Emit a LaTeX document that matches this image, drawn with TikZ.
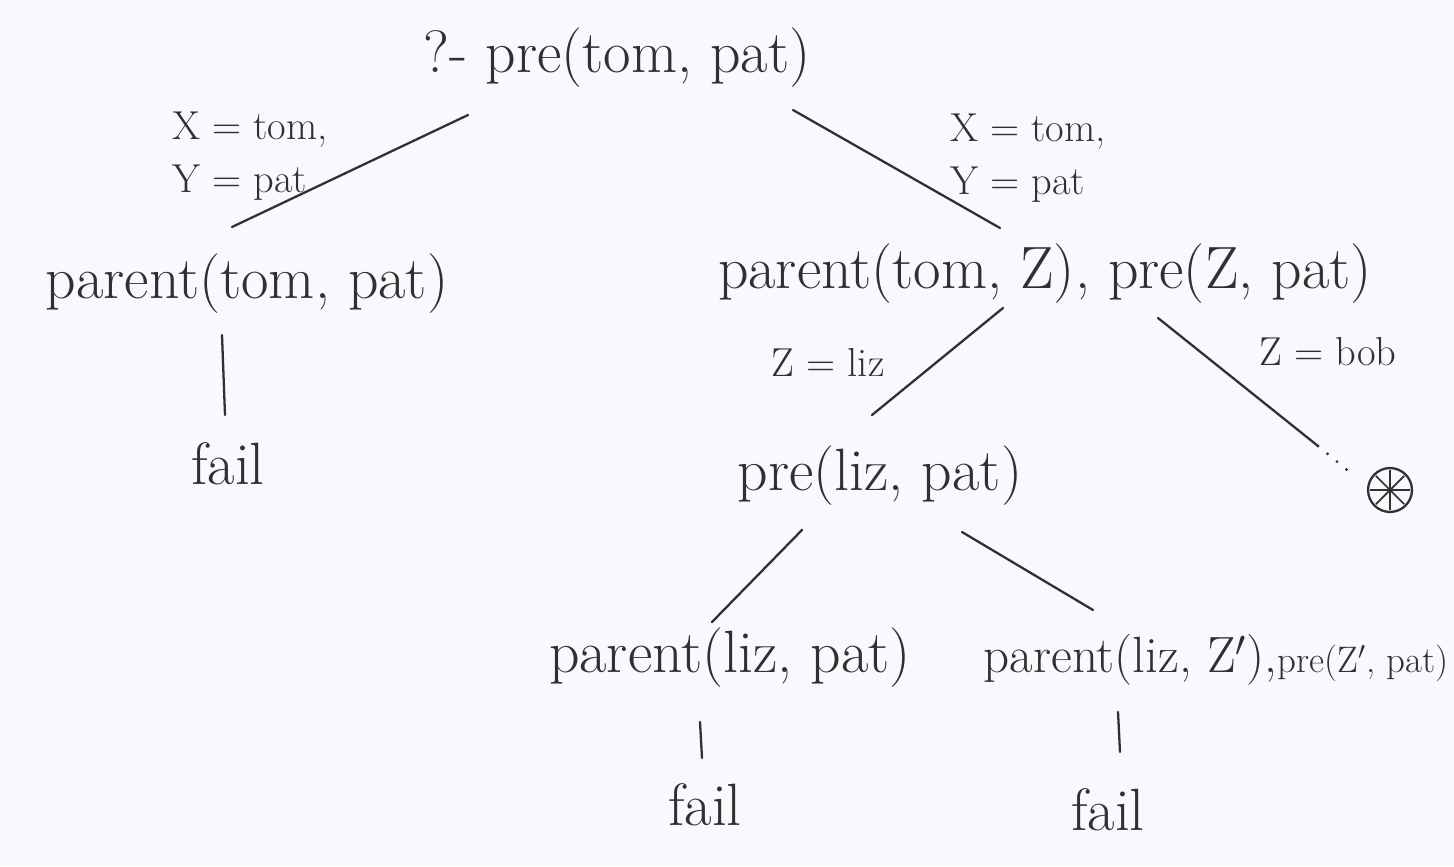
\documentclass[tikz,border=0pt]{standalone}
\usetikzlibrary{calc}
\definecolor{paper}{HTML}{F8F9FD}
\definecolor{ink}{HTML}{303030}
\begin{document}
\begin{tikzpicture}[x=0.02cm,y=-0.02cm,
  term/.style={text=ink,inner sep=2pt,font=\fontsize{34}{40}\selectfont},
  lab/.style={text=ink,inner sep=1pt,align=left,font=\fontsize{23}{30}\selectfont},
  edge/.style={draw=ink,line width=1.3pt,line cap=round}]
% paper
\fill[paper] (0,0) rectangle (1454,866);
\useasboundingbox (0,0) rectangle (1454,866);

% goals
\node[term] (root) at (617,58) {?- pre(tom, pat)};
\node[term] (pl) at (247,284) {parent(tom, pat)};
\node[term] (fl) at (228,464) {fail};
\node[term] (pr) at (1045,274) {parent(tom, Z), pre(Z, pat)};
\node[term] (pliz) at (880,476) {pre(liz, pat)};
\node[term] (pp) at (730,658) {parent(liz, pat)};
\node[term,anchor=west,font=\fontsize{29}{36}\selectfont] (pz) at (980,660)
  {parent(liz, Z$'$),{\fontsize{21}{26}\selectfont pre(Z$'$, pat)}};
\node[term] (f2) at (705,805) {fail};
\node[term] (f3) at (1108,810) {fail};

% substitutions
\node[lab] (s1) at (250,156) {X = tom,\\Y = pat};
\node[lab] (s2) at (1028,158) {X = tom,\\Y = pat};
\node[lab] (s3) at (828,362) {Z = liz};
\node[lab] (s4) at (1328,352) {Z = bob};

% connector end points
\coordinate (a1) at (468,115); \coordinate (b1) at (232,227);
\coordinate (a2) at (793,110); \coordinate (b2) at (1000,228);
\coordinate (a3) at (222,335); \coordinate (b3) at (225,415);
\coordinate (a4) at (1003,308); \coordinate (b4) at (872,415);
\coordinate (a5) at (1158,318); \coordinate (b5) at (1318,446);
\coordinate (a6) at (802,530); \coordinate (b6) at (712,622);
\coordinate (a7) at (962,532); \coordinate (b7) at (1093,610);
\coordinate (a8) at (700,722); \coordinate (b8) at (702,758);
\coordinate (a9) at (1118,712); \coordinate (b9) at (1120,752);
\coordinate (dotend) at (1352,474);

\draw[edge] (a1) -- (b1);
\draw[edge] (a2) -- (b2);
\draw[edge] (a3) -- (b3);
\draw[edge] (a4) -- (b4);
\draw[edge] (a5) -- (b5);
\draw[edge] (a6) -- (b6);
\draw[edge] (a7) -- (b7);
\draw[edge] (a8) -- (b8);
\draw[edge] (a9) -- (b9);

% infinite branch: dots and a starred circle
\draw[ink,line width=1.8pt,line cap=round,dash pattern=on 0pt off 7pt] (b5) -- (dotend);
\node[circle,draw=ink,line width=1.3pt,minimum size=25pt,inner sep=0pt] (inf) at (1390,490) {};
\foreach \a in {0,45,90,135}
  \draw[ink,line width=1pt] ($(inf)+(\a:20)$) -- ($(inf)+(\a+180:20)$);
\end{tikzpicture}
\end{document}
